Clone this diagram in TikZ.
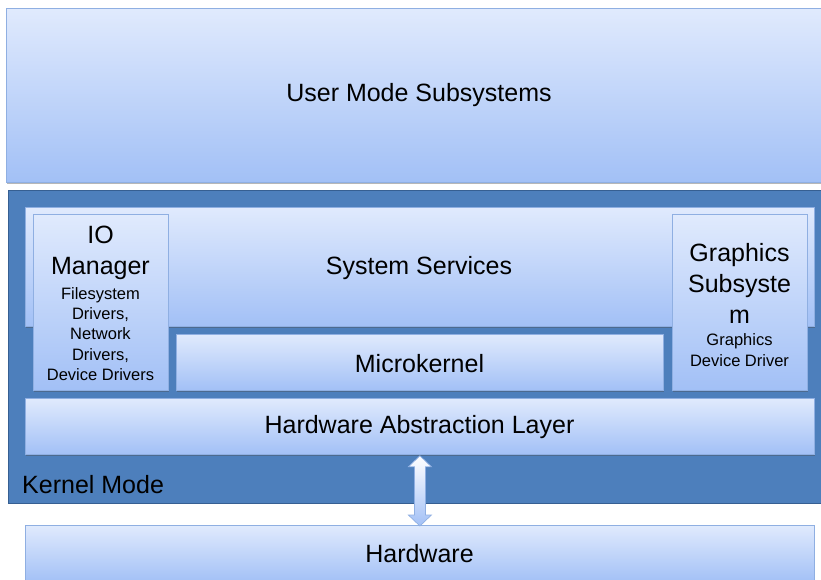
\documentclass[tikz,border=0pt]{standalone}
\usepackage{fontspec}
\setmainfont{Liberation Sans}
\usetikzlibrary{shadows,calc}
\definecolor{boxtop}{HTML}{E0EAFD}
\definecolor{boxbot}{HTML}{A2C0F6}
\definecolor{boxline}{HTML}{8FAFE2}
\definecolor{kfill}{HTML}{4D7FBC}
\definecolor{kline}{HTML}{365F92}
\definecolor{txt}{HTML}{000000}
\newcommand{\bigf}{\fontsize{25}{31}\selectfont}
\newcommand{\smallf}{\fontsize{16.5}{20.4}\selectfont}
\begin{document}
\begin{tikzpicture}[x=1pt,y=-1pt,
  lbox/.style={rectangle, anchor=north west, inner sep=0pt, top color=boxtop, bottom color=boxbot,
    draw=boxline, line width=0.8pt, text=txt, font=\bigf,
    drop shadow={shadow xshift=0.8pt, shadow yshift=-1.4pt, opacity=0.4, fill=black!70}},
  kbox/.style={rectangle, anchor=north west, inner sep=0pt, fill=kfill, draw=kline, line width=1.2pt},
  label/.style={text=txt, inner sep=0pt, align=center}]
\useasboundingbox (0,0) rectangle (821,580);
\clip (0,0) rectangle (821,580);
\fill[white] (0,0) rectangle (821,580);
% user mode
\node[lbox, minimum width=815pt, minimum height=174pt] (user) at (6,8) {};
\node[label, font=\bigf] (usert) at (419,95.5) {User Mode Subsystems};
% kernel mode
\node[kbox, minimum width=816pt, minimum height=313pt] (kernel) at (8,190) {};
\node[label, anchor=west, font=\bigf] (km) at (22,484.5) {Kernel Mode};
% system services
\node[lbox, minimum width=789pt, minimum height=119pt] (sys) at (25,207) {};
\node[label, font=\bigf] (syst) at (419,268) {System Services};
% IO manager
\node[lbox, minimum width=135pt, minimum height=176pt] (io) at (33,214) {};
\node[label, font=\bigf] (iot) at (100.5,252.5) {IO\\Manager};
\node[label, font=\smallf] (iod) at (100.5,334) {Filesystem\\Drivers,\\Network\\Drivers,\\Device Drivers};
% microkernel
\node[lbox, minimum width=487pt, minimum height=56pt] (micro) at (176,334) {};
\node[label, font=\bigf] (microt) at (419.5,363.5) {Microkernel};
% graphics
\node[lbox, minimum width=135pt, minimum height=176pt] (gfx) at (672,214) {};
\node[label, font=\bigf] (gfxt) at (739.5,283.5) {Graphics\\Subsyste\\m};
\node[label, font=\smallf] (gfxd) at (739.5,350) {Graphics\\Device Driver};
% HAL
\node[lbox, minimum width=789pt, minimum height=56pt] (hal) at (25,398) {};
\node[label, font=\bigf] (halt) at (419.5,427.5) {Hardware Abstraction Layer};
% hardware
\node[lbox, minimum width=789pt, minimum height=57pt] (hw) at (25,525) {};
\node[label, font=\bigf] (hwt) at (419.5,554) {Hardware};
% double arrow between HAL and hardware
\coordinate (at) at ($(hal.south)+(0,1)$);
\coordinate (ab) at ($(hw.north)+(0,1)$);
\path[top color=white, bottom color=boxbot, draw=boxline, line width=0.7pt]
  (at) -- ($(at)+(11.5,11)$) -- ($(at)+(5.5,11)$) -- ($(ab)+(5.5,-11)$) -- ($(ab)+(11.5,-11)$)
  -- (ab) -- ($(ab)+(-11.5,-11)$) -- ($(ab)+(-5.5,-11)$) -- ($(at)+(-5.5,11)$) -- ($(at)+(-11.5,11)$) -- cycle;
\end{tikzpicture}
\end{document}
